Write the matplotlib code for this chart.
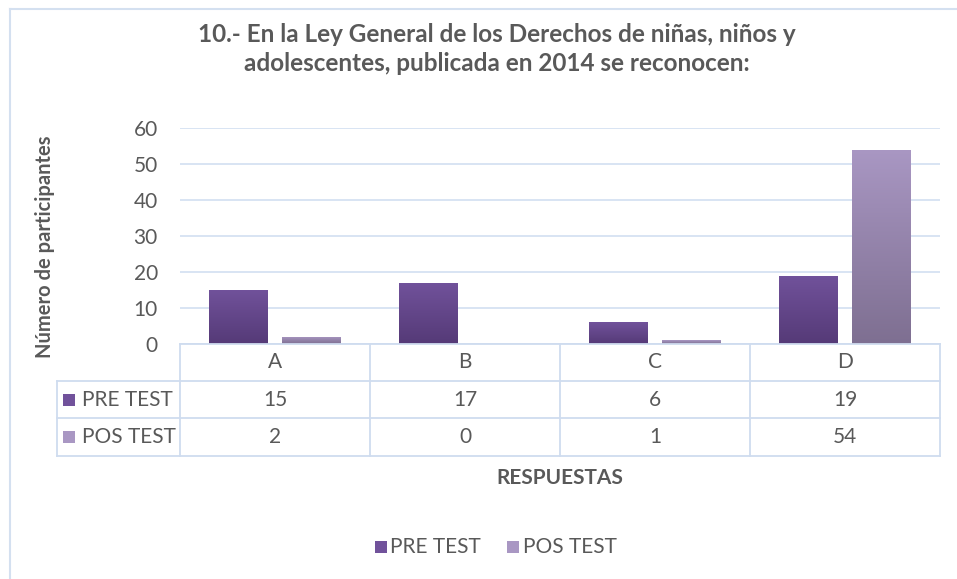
import matplotlib
matplotlib.use("Agg")
import matplotlib.pyplot as plt
import numpy as np
from matplotlib.colors import LinearSegmentedColormap
from matplotlib.patches import Rectangle
from matplotlib.lines import Line2D

categories = ["A", "B", "C", "D"]
series_names = ["PRE TEST", "POS TEST"]
pre_test = [15, 17, 6, 19]
pos_test = [2, 0, 1, 54]
yticks = [0, 10, 20, 30, 40, 50, 60]
title = "10.- En la Ley General de los Derechos de niñas, niños y\nadolescentes, publicada en 2014 se reconocen:"
ylabel = "Número de participantes"
xlabel = "RESPUESTAS"

FONT = "Lato"
TXT = "#595959"
GRID = "#d6e2f2"
BORDER = "#cfdcef"
pre_cols = ("#71529b", "#553a77")
pos_cols = ("#a997c3", "#7e6f91")

W, H = 957, 579
fig = plt.figure(figsize=(W / 100, H / 100), dpi=100)

def fx(px):
    return px / W

def fy(py):
    return 1 - py / H

ax_l, ax_r, ax_t, ax_b = 180, 940, 128, 344
ax = fig.add_axes([fx(ax_l), fy(ax_b), fx(ax_r - ax_l), fy(ax_t) - fy(ax_b)])
n = len(categories)
ax.set_xlim(-0.5, n - 0.5)
ax.set_ylim(0, 60)
ax.set_yticks(yticks)
ax.set_yticklabels([str(t) for t in yticks], fontfamily=FONT, fontsize=15, color=TXT)
ax.tick_params(axis="y", length=0, pad=16)
ax.set_xticks([])
for s in ax.spines.values():
    s.set_visible(False)
ax.grid(axis="y", color=GRID, linewidth=1.3)
ax.set_axisbelow(True)

bw = 0.31
off = 0.19
x = np.arange(n)

def grad_bars(xs, vals, cols):
    cmap = LinearSegmentedColormap.from_list("g", [cols[1], cols[0]])
    bars = ax.bar(xs, vals, width=bw, color="none", edgecolor="none", zorder=3)
    for b in bars:
        if b.get_height() <= 0:
            continue
        x0, y0 = b.get_x(), b.get_y()
        w, h = b.get_width(), b.get_height()
        grad = np.linspace(0, 1, 256).reshape(-1, 1)
        im = ax.imshow(grad, cmap=cmap, aspect="auto", origin="lower",
                       extent=[x0, x0 + w, y0, y0 + h], zorder=3)
        im.set_clip_path(b)
    return bars

grad_bars(x - off, pre_test, pre_cols)
grad_bars(x + off, pos_test, pos_cols)
ax.set_xlim(-0.5, n - 0.5)
ax.set_ylim(0, 60)

# title and axis labels
fig.text(fx(497), fy(49), title, ha="center", va="center", fontfamily=FONT,
         fontweight="bold", fontsize=17.5, color=TXT, linespacing=1.3)
fig.text(fx(45), fy(247), ylabel, ha="center", va="center", rotation=90,
         fontfamily=FONT, fontweight="bold", fontsize=14.5, color=TXT)
fig.text(fx(560), fy(478), xlabel, ha="center", va="center",
         fontfamily=FONT, fontweight="bold", fontsize=15, color=TXT)

# data table
def hline(x0, x1, y, c=BORDER, lw=1.3):
    fig.add_artist(Line2D([fx(x0), fx(x1)], [fy(y), fy(y)], color=c, lw=lw))

def vline(x0, y0, y1, c=BORDER, lw=1.3):
    fig.add_artist(Line2D([fx(x0), fx(x0)], [fy(y0), fy(y1)], color=c, lw=lw))

rows = [344, 381, 418, 456]
col_edges = [ax_l + i * (ax_r - ax_l) / n for i in range(n + 1)]
label_l = 57
hline(ax_l, ax_r, rows[0])
for r in rows[1:]:
    hline(label_l, ax_r, r)
for ce in col_edges:
    vline(ce, rows[0], rows[3])
vline(label_l, rows[1], rows[3])

for i, c in enumerate(categories):
    cx = (col_edges[i] + col_edges[i + 1]) / 2
    fig.text(fx(cx), fy((rows[0] + rows[1]) / 2), c, ha="center", va="center",
             fontfamily=FONT, fontsize=15, color=TXT)
    for j, vals in enumerate([pre_test, pos_test]):
        fig.text(fx(cx), fy((rows[j + 1] + rows[j + 2]) / 2), str(vals[i]),
                 ha="center", va="center", fontfamily=FONT, fontsize=15, color=TXT)

for j, (name, cols) in enumerate(zip(series_names, [pre_cols, pos_cols])):
    cy = (rows[j + 1] + rows[j + 2]) / 2
    fig.add_artist(Rectangle((fx(63), fy(cy + 6)), fx(12), fy(cy - 6) - fy(cy + 6),
                             facecolor=cols[0], edgecolor="none"))
    fig.text(fx(82), fy(cy), name, ha="left", va="center",
             fontfamily=FONT, fontsize=15, color=TXT)

# legend
leg_items = [(375, 390, series_names[0], pre_cols), (507, 523, series_names[1], pos_cols)]
ly = 547
for sx, tx, name, cols in leg_items:
    fig.add_artist(Rectangle((fx(sx), fy(ly + 6)), fx(12), fy(ly - 6) - fy(ly + 6),
                             facecolor=cols[0], edgecolor="none"))
    fig.text(fx(tx), fy(ly), name, ha="left", va="center",
             fontfamily=FONT, fontsize=15, color=TXT)

# outer frame (cropped)
vline(10, 9, H + 5, c="#d4e0f0", lw=1.5)
hline(10, W + 5, 9, c="#d4e0f0", lw=1.5)

fig.savefig("out.png", dpi=100, facecolor="white")
